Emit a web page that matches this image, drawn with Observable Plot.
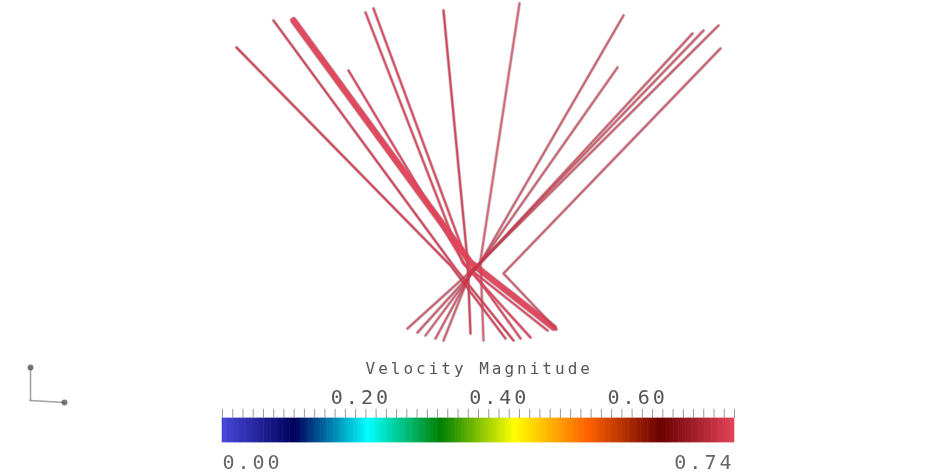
<!DOCTYPE html>
<html>
<head>
<meta charset="utf-8">
<script src="https://cdn.jsdelivr.net/npm/d3@7"></script>
<script src="https://cdn.jsdelivr.net/npm/@observablehq/plot@0.6"></script>
<style>
  html, body { margin: 0; padding: 0; background: #fff; }
  #wrap { position: relative; width: 942px; height: 474px; overflow: hidden; }
  #lines, #bar { position: absolute; left: 0; }
  #lines { top: 0; filter: blur(0.6px); }
  #bar { top: 350px; filter: blur(0.4px); }
  #bar text { letter-spacing: 3px; }
</style>
</head>
<body>
<div id="wrap"><div id="lines"></div><div id="bar"></div></div>
<script>
// ---- data (model units) ----
// streamline vertices: [lineId, x, y]
const streamlinePoints = [
  [0, -2.44, 2.93], [0, -0.30, 0.75], [0, 0.25, 0.02],
  [1, -2.07, 3.20], [1, -0.25, 0.72], [1, 0.33, 0.00],
  [2, -1.87, 3.20], [2, -0.10, 0.78], [2, 0.73, 0.13],
  [3, -1.32, 2.70], [3, -0.15, 0.75], [3, 0.67, 0.10],
  [4, -1.15, 3.28], [4, -0.18, 0.78], [4, 0.50, 0.03],
  [5, -1.07, 3.32], [5, -0.12, 0.75], [5, 0.40, 0.02],
  [6, -0.37, 3.30], [6, -0.13, 0.80], [6, -0.10, 0.07],
  [7, 0.39, 3.37], [7, 0.00, 0.80], [7, 0.03, 0.00],
  [8, 1.43, 3.25], [8, 0.00, 0.78], [8, -0.73, 0.12],
  [9, 1.37, 2.73], [9, -0.02, 0.75], [9, -0.63, 0.08],
  [10, 2.12, 3.07], [10, -0.05, 0.72], [10, -0.55, 0.05],
  [11, 2.23, 3.10], [11, -0.08, 0.70], [11, -0.45, 0.02],
  [12, 2.38, 3.15], [12, -0.10, 0.68], [12, -0.37, 0.00],
  [13, 2.40, 2.92], [13, 0.23, 0.67], [13, 0.76, 0.11]
];
// velocity magnitude of each streamline
const streamlineSpeed = [0.73, 0.73, 0.74, 0.74, 0.74, 0.74, 0.73, 0.73, 0.72, 0.72, 0.72, 0.72, 0.72, 0.72];
// orientation triad glyph: [axis, x, y]
const triadPoints = [
  ["y", -4.50, -0.27], ["y", -4.50, -0.60],
  ["x", -4.50, -0.60], ["x", -4.16, -0.62]
];
// colour map (Rainbow Desaturated) and legend
const colorMapColors = ["#4747db", "#00005c", "#00ffff", "#008000", "#ffff00", "#ff6100", "#6b0000", "#e2435a"];
const rangeMin = 0.00, rangeMax = 0.74;
const legendTitle = "Velocity Magnitude";
const tickLabelValues = [0.20, 0.40, 0.60];
const endLabels = ["0.00", "0.74"];

// ---- derived tables ----
const pts = streamlinePoints.map(([id, x, y]) => ({id, x, y, speed: streamlineSpeed[id]}));
const triad = triadPoints.map(([axis, x, y]) => ({axis, x, y}));
const stops = colorMapColors.map((c, i) => rangeMin + i * (rangeMax - rangeMin) / (colorMapColors.length - 1));
const colorScale = {type: "linear", domain: stops, range: colorMapColors, interpolate: "rgb"};

const leftSide = new Set([0,1,2,3,4,5,6]);
const thick = 2;

const linesPlot = Plot.plot({
  width: 942, height: 474,
  margin: 0,
  x: {domain: [-4.8, 4.62], axis: null},
  y: {domain: [-1.34, 3.40], axis: null},
  color: colorScale,
  marks: [
    Plot.line(pts, {x: "x", y: "y", z: "id", stroke: "#7a6070",
      strokeWidth: d => d.id === thick ? 7.5 : 3.4, strokeOpacity: d => leftSide.has(d.id) ? 0.4 : 0.35}),
    Plot.line(pts, {x: "x", y: "y", z: "id", stroke: "speed",
      strokeWidth: d => d.id === thick ? 6 : 1.9, strokeOpacity: d => leftSide.has(d.id) ? 0.95 : 0.7}),
    Plot.line(triad, {x: "x", y: "y", z: "axis", stroke: "#555", strokeWidth: 1.6, strokeOpacity: 0.55}),
    Plot.dot(triad.filter((d, i) => i === 0 || i === 3), {x: "x", y: "y", r: 3, fill: "#444", fillOpacity: 0.7})
  ]
});
document.getElementById("lines").appendChild(linesPlot);

// colour bar
const nSteps = 296;
const ramp = d3.range(nSteps).map(i => {
  const a = rangeMin + i * (rangeMax - rangeMin) / nSteps;
  const b = rangeMin + (i + 1) * (rangeMax - rangeMin) / nSteps;
  return {a, b, v: (a + b) / 2};
});
const minorTicks = d3.range(51).map(i => rangeMin + i * (rangeMax - rangeMin) / 50);

const barPlot = Plot.plot({
  width: 942, height: 124,
  marginLeft: 222, marginRight: 208, marginTop: 0, marginBottom: 0,
  x: {domain: [rangeMin, rangeMax], axis: null},
  y: {domain: [0, 1], range: [92, 68], axis: null},
  color: colorScale,
  style: {background: "transparent"},
  marks: [
    Plot.rect(ramp, {x1: "a", x2: "b", y1: 0, y2: 1, fill: "v", inset: -0.3}),
    Plot.ruleX(minorTicks, {x: d => d, y1: 1, y2: 1.38, stroke: "#999", strokeWidth: 1}),
    Plot.text(tickLabelValues, {x: d => d, y: 1, dy: -21, text: d => d.toFixed(2),
      fontFamily: "DejaVu Sans Mono", fontSize: 20, fill: "#555"}),
    Plot.text([legendTitle], {x: (rangeMin + rangeMax) / 2 + 0.001, y: 1, dy: -50, text: d => d,
      fontFamily: "DejaVu Sans Mono", fontSize: 16, fill: "#555"}),
    Plot.text([endLabels[0]], {x: rangeMin, y: 0, dy: 20, text: d => d, textAnchor: "start",
      fontFamily: "DejaVu Sans Mono", fontSize: 20, fill: "#666"}),
    Plot.text([endLabels[1]], {x: rangeMax, y: 0, dy: 20, text: d => d, textAnchor: "end",
      fontFamily: "DejaVu Sans Mono", fontSize: 20, fill: "#666"})
  ]
});
document.getElementById("bar").appendChild(barPlot);
</script>
</body>
</html>
